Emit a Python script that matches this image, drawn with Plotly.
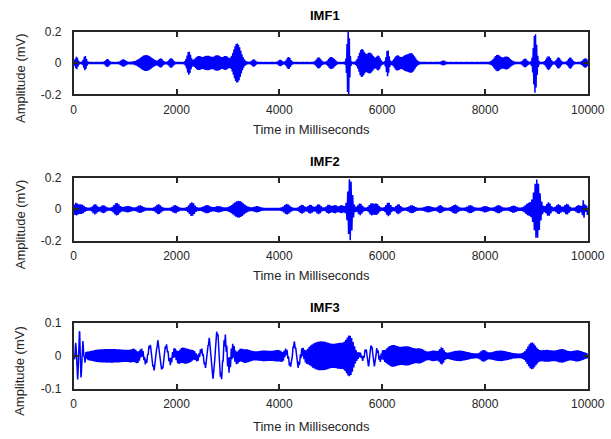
import numpy as np
import plotly.graph_objects as go

# time axis in milliseconds (1 kHz sampling)
t = np.arange(0, 10001, dtype=float)

# ---- IMF1: high-frequency bursts (centre ms, peak mV, spread ms) ----
imf1_center = [55, 220, 655, 966, 1408, 1694, 1895, 2240, 2420, 2600, 2800, 2960,
               3180, 3500, 4018, 4180, 4765, 4990, 5050, 5342, 5600, 5760, 5926,
               6107, 6290, 6450, 6580, 7190, 8240, 8420, 8780, 8975, 9236, 9431,
               9659, 9951]
imf1_amp = [0.034, 0.040, 0.020, 0.018, 0.045, 0.022, 0.025, 0.068, 0.035, 0.040,
            0.042, 0.035, 0.120, 0.018, 0.015, 0.033, 0.030, 0.025, 0.018, 0.220,
            0.080, 0.060, 0.038, 0.080, 0.040, 0.040, 0.048, 0.010, 0.045, 0.035,
            0.022, 0.185, 0.038, 0.030, 0.030, 0.024]
imf1_spread = [25, 25, 30, 40, 110, 35, 35, 35, 60, 80, 70, 50, 70, 30, 30, 35, 40,
               40, 40, 22, 50, 70, 35, 25, 50, 70, 60, 30, 60, 70, 35, 30, 40, 35,
               35, 40]
imf1_freq = 45.0
imf1_floor = 0.006

# ---- IMF2 ----
imf2_center = [40, 150, 415, 577, 837, 1050, 1291, 1648, 1973, 2298, 2590, 2816,
               3206, 3564, 4148, 4440, 4602, 4764, 4958, 5083, 5211, 5375, 5570,
               5790, 5890, 6121, 6316, 6575, 6900, 7128, 7420, 7712, 8004, 8263,
               8555, 8847, 9009, 9236, 9431, 9593, 9821, 9918, 10000]
imf2_amp = [0.030, 0.022, 0.025, 0.018, 0.032, 0.012, 0.016, 0.024, 0.018, 0.036,
            0.018, 0.012, 0.046, 0.012, 0.026, 0.021, 0.021, 0.024, 0.021, 0.018,
            0.018, 0.190, 0.030, 0.030, 0.028, 0.036, 0.024, 0.018, 0.012, 0.018,
            0.021, 0.018, 0.012, 0.018, 0.015, 0.030, 0.180, 0.036, 0.024, 0.027,
            0.018, 0.050, 0.030]
imf2_spread = [40, 50, 40, 40, 50, 60, 50, 45, 45, 50, 60, 60, 100, 50, 50, 40, 40,
               40, 40, 40, 40, 40, 40, 40, 40, 40, 40, 50, 60, 40, 50, 50, 50, 50,
               50, 60, 55, 40, 40, 40, 40, 20, 20]
imf2_freq = 31.0
imf2_floor = 0.008

# ---- IMF3: dense part ----
imf3_center = [500, 900, 1200, 2150, 3050, 3350, 3700, 4000, 4700, 4950, 5200,
               5375, 6200, 6500, 6750, 7000, 7160, 7500, 7970, 8300, 8910, 9200,
               9500, 9800]
imf3_amp = [0.012, 0.012, 0.010, 0.018, 0.015, 0.012, 0.010, 0.010, 0.028, 0.026,
            0.025, 0.050, 0.026, 0.022, 0.014, 0.010, 0.018, 0.010, 0.011, 0.010,
            0.034, 0.012, 0.014, 0.011]
imf3_spread = [200, 200, 100, 150, 150, 100, 150, 100, 150, 150, 100, 70, 120, 120,
               80, 80, 40, 150, 50, 150, 80, 120, 100, 100]
imf3_freq = 35.0
imf3_floor = 0.006

# ---- IMF3: slow oscillations (centre ms, peak mV, spread ms, Hz) ----
imf3_slow_center = [110, 1640, 2790, 4290, 5790]
imf3_slow_amp = [0.080, 0.042, 0.070, 0.037, 0.030]
imf3_slow_spread = [55, 190, 180, 110, 110]
imf3_slow_freq = [14.0, 6.2, 6.4, 6.0, 8.8]


def envelope(center, amp, spread, floor):
    env = np.full_like(t, floor)
    for c, a, s in zip(center, amp, spread):
        env += a * np.exp(-0.5 * ((t - c) / s) ** 2)
    return env


def carrier(freq):
    return np.sin(2 * np.pi * freq * t / 1000.0)


imf1 = envelope(imf1_center, imf1_amp, imf1_spread, imf1_floor) * carrier(imf1_freq)
imf2 = envelope(imf2_center, imf2_amp, imf2_spread, imf2_floor) * carrier(imf2_freq)
imf3 = envelope(imf3_center, imf3_amp, imf3_spread, imf3_floor) * carrier(imf3_freq)
for c, a, s, f in zip(imf3_slow_center, imf3_slow_amp, imf3_slow_spread, imf3_slow_freq):
    imf3 += a * np.exp(-0.5 * ((t - c) / s) ** 2) * np.sin(2 * np.pi * f * (t - c) / 1000.0 + np.pi / 2)

signals = [imf1, imf2, imf3]
titles = ["IMF1", "IMF2", "IMF3"]
y_limits = [(-0.2, 0.2), (-0.2, 0.2), (-0.1, 0.1)]
y_ticks = [[-0.2, 0, 0.2], [-0.2, 0, 0.2], [-0.1, 0, 0.1]]
x_ticks = [0, 2000, 4000, 6000, 8000, 10000]
x_ticktext = ["0", "2000", "4000", "6000", "8000", "10000"]

W, H = 611, 439
x_dom = [73.7 / W, 588.3 / W]
# (top px, bottom px) of each axes box
boxes = [(31.7, 94.3), (177.7, 240.7), (323.0, 388.7)]
# vertical centre (px) of the x-axis caption under each box
xlabel_y = [129.0, 275.0, 426.7]

axis_color = "#262626"
fam = "Liberation Sans, Arial, sans-serif"
tick_font = dict(family=fam, size=12, color=axis_color)
label_font = dict(family=fam, size=13, color=axis_color)

fig = go.Figure()
annotations = []
for i, (sig, ttl, yl, yt, (top, bot), xly) in enumerate(
        zip(signals, titles, y_limits, y_ticks, boxes, xlabel_y)):
    n = "" if i == 0 else str(i + 1)
    fig.add_trace(go.Scatter(x=t, y=sig, mode="lines",
                             line=dict(color="#0000ff", width=1.5),
                             xaxis="x" + n, yaxis="y" + n, showlegend=False,
                             hoverinfo="skip"))
    common = dict(showline=True, linecolor=axis_color, linewidth=1.8, mirror="ticks",
                  ticks="inside", ticklen=5, tickwidth=1.5, tickcolor=axis_color,
                  showgrid=False, zeroline=False, tickfont=tick_font, automargin=False)
    fig.layout["xaxis" + n] = dict(domain=x_dom, range=[0, 10010], tickvals=x_ticks,
                                   ticktext=x_ticktext, anchor="y" + n,
                                   ticklabelstandoff=3, **common)
    fig.layout["yaxis" + n] = dict(domain=[1 - bot / H, 1 - top / H], range=list(yl),
                                   tickvals=yt, ticktext=[f"{v:g}" for v in yt],
                                   anchor="x" + n, ticklabelstandoff=8, **common)
    annotations.append(dict(text=f"<b>{ttl}</b>", x=325 / W, y=1 - (top - 16) / H,
                            xref="paper", yref="paper", showarrow=False,
                            xanchor="center", yanchor="middle",
                            font=dict(family=fam, size=13, color="black")))
    annotations.append(dict(text="Time in Milliseconds", x=311 / W, y=1 - xly / H,
                            xref="paper", yref="paper", showarrow=False,
                            xanchor="center", yanchor="middle", font=label_font))
    annotations.append(dict(text="Amplitude (mV)", x=20 / W,
                            y=1 - ((top + bot) / 2 + 15) / H,
                            xref="paper", yref="paper", showarrow=False, textangle=-90,
                            xanchor="center", yanchor="middle", font=label_font))

fig.update_layout(width=W, height=H, margin=dict(l=0, r=0, t=0, b=0),
                  paper_bgcolor="white", plot_bgcolor="white",
                  annotations=annotations)
fig.write_html("out.html")
